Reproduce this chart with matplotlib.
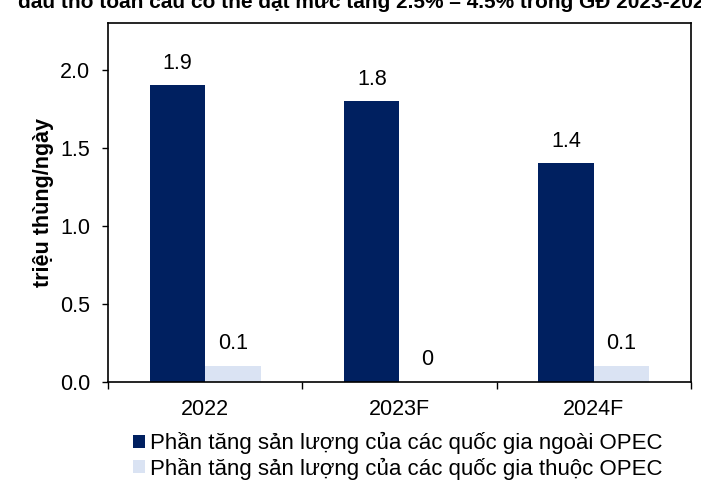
import matplotlib
matplotlib.use("Agg")
import matplotlib.pyplot as plt
from matplotlib.patches import Patch
import numpy as np

plt.rcParams['font.family'] = ['Liberation Sans', 'DejaVu Sans']

categories = ["2022", "2023F", "2024F"]
non_opec = [1.9, 1.8, 1.4]
opec = [0.1, 0.0, 0.1]
non_opec_labels = ["1.9", "1.8", "1.4"]
opec_labels = ["0.1", "0", "0.1"]
series_names = ["Phần tăng sản lượng của các quốc gia ngoài OPEC",
                "Phần tăng sản lượng của các quốc gia thuộc OPEC"]
yticks = [0.0, 0.5, 1.0, 1.5, 2.0]
title = "dầu thô toàn cầu có thể đạt mức tăng 2.5% – 4.5% trong GĐ 2023-2025"

dark = "#002060"
light = "#DAE3F3"
fs = 15.5

fig = plt.figure(figsize=(7.01, 4.84), dpi=100)
ax = fig.add_axes([108/701, 1 - 382/484, (691-108)/701, (382-23)/484])

x = np.arange(len(categories))
w = 0.285
b1 = ax.bar(x - w/2, non_opec, width=w, color=dark, zorder=2)
b2 = ax.bar(x + w/2, opec, width=w, color=light, zorder=2)

for rect, lab in zip(b1, non_opec_labels):
    ax.annotate(lab, (rect.get_x() + rect.get_width()/2, rect.get_height()),
                xytext=(0, 11), textcoords='offset pixels', ha='center', va='bottom', fontsize=fs)
for rect, lab in zip(b2, opec_labels):
    ax.annotate(lab, (rect.get_x() + rect.get_width()/2, rect.get_height()),
                xytext=(0, 12), textcoords='offset pixels', ha='center', va='bottom', fontsize=fs)

ax.set_xlim(-0.5, len(categories) - 0.5)
ax.set_ylim(0, 2.3)
ax.set_yticks(yticks)
ax.set_yticklabels([f"{v:.1f}" for v in yticks], fontsize=fs)
ax.set_xticks(np.arange(len(categories) + 1) - 0.5)
ax.set_xticklabels([])
ax.set_xticks(x, minor=True)
ax.set_xticklabels(categories, minor=True, fontsize=fs)
ax.tick_params(axis='x', which='major', length=5, width=1, direction='out')
ax.tick_params(axis='x', which='minor', length=0, pad=12)
ax.tick_params(axis='y', length=4, width=1, direction='out', pad=9)
for s in ax.spines.values():
    s.set_linewidth(1.2)
    s.set_color('black')

ax.set_ylabel("triệu thùng/ngày", fontsize=15.5, fontweight='bold', labelpad=4)

handles = [Patch(facecolor=dark), Patch(facecolor=light)]
fig.legend(handles, series_names, loc='upper left', bbox_to_anchor=(133/701, 1 - 432/484),
           frameon=False, fontsize=16, handlelength=0.55, handleheight=0.55,
           handletextpad=0.2, labelspacing=0.15, borderaxespad=0, borderpad=0)

fig.text(18/701, 1 - 8/484, title, fontsize=15, fontweight='bold', va='baseline', ha='left')

fig.savefig("out.png", dpi=100)
